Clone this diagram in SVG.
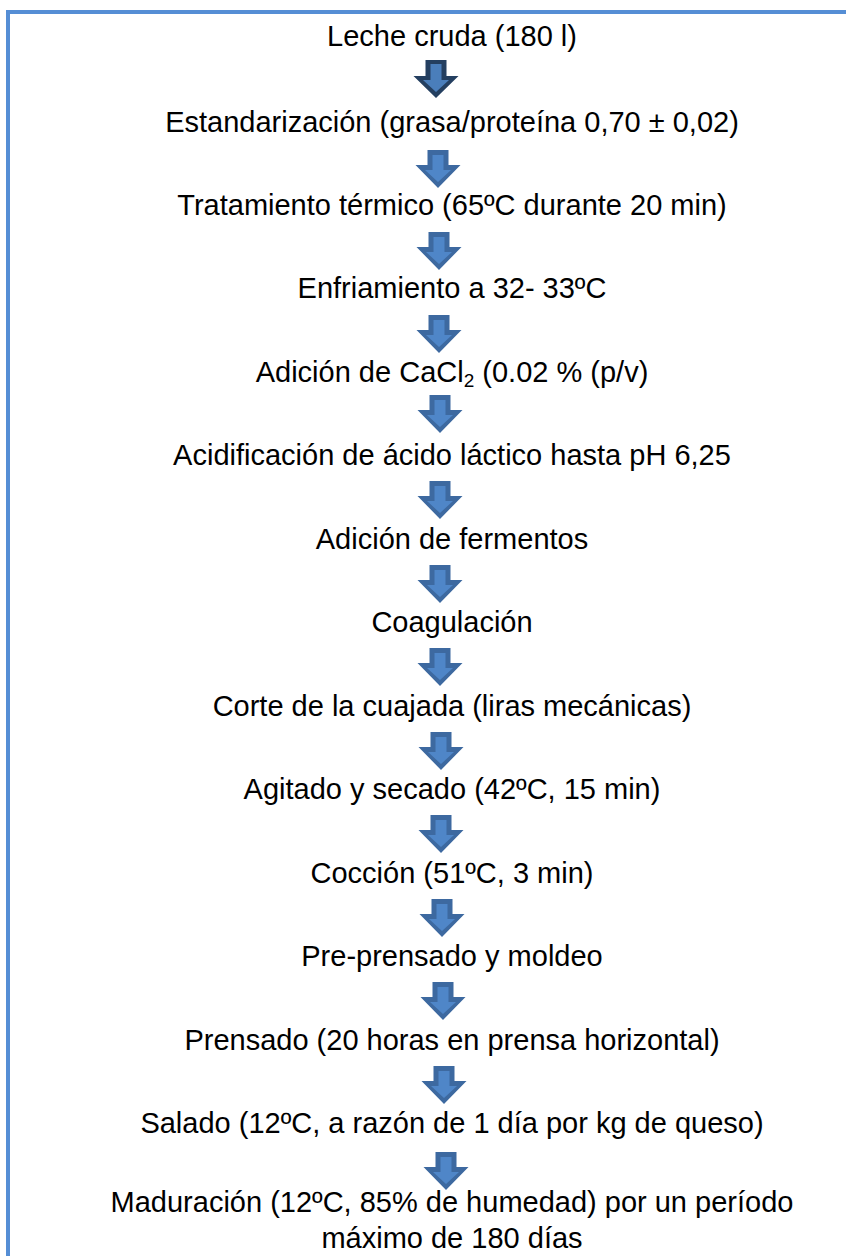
<svg xmlns="http://www.w3.org/2000/svg" xmlns:xlink="http://www.w3.org/1999/xlink" width="846" height="1256" viewBox="0 0 846 1256">
<style>
.t{font-family:"Liberation Sans",Arial,sans-serif;font-size:29px;fill:#000;text-anchor:middle}
.ao{fill:#3d69a0}
.ai{fill:#4f86c8}
</style>
<defs>
<g id="arr">
<path class="ao" d="M-10.5,0 H10.5 V15 H22.5 L0,38 L-22.5,15 H-10.5 Z"/>
<path class="ai" d="M-5.5,5 H5.5 V20 H13 L0,32 L-13,20 H-5.5 Z"/>
</g>
<g id="arr1">
<path fill="#243f60" d="M-10.5,0 H10.5 V16 H22.5 L0,38 L-22.5,16 H-10.5 Z"/>
<path fill="#4a7ebb" d="M-5.5,4 H5.5 V20 H13 L0,32 L-13,20 H-5.5 Z"/>
</g>
</defs>
<rect width="846" height="1256" fill="#fff"/>
<g id="frame" fill="#558ed5">
<rect x="6" y="10" width="840" height="4"/>
<rect x="6" y="10" width="4" height="1246"/>
</g>
<g id="connectors">
<use xlink:href="#arr1" x="436" y="60"/>
<use xlink:href="#arr" x="438" y="150"/>
<use xlink:href="#arr" x="439" y="232"/>
<use xlink:href="#arr" x="439" y="315"/>
<use xlink:href="#arr" x="440" y="395"/>
<use xlink:href="#arr" x="440" y="481"/>
<use xlink:href="#arr" x="440" y="565"/>
<use xlink:href="#arr" x="440" y="648"/>
<use xlink:href="#arr" x="441" y="732"/>
<use xlink:href="#arr" x="441" y="815"/>
<use xlink:href="#arr" x="442" y="899"/>
<use xlink:href="#arr" x="443" y="982"/>
<use xlink:href="#arr" x="444" y="1066"/>
<use xlink:href="#arr" x="446" y="1152"/>
</g>
<g id="n1"><text class="t" x="452" y="46">Leche cruda (180 l)</text></g>
<g id="n2"><text class="t" x="452" y="132">Estandarización (grasa/proteína 0,70 ± 0,02)</text></g>
<g id="n3"><text class="t" x="452" y="215">Tratamiento térmico (65ºC durante 20 min)</text></g>
<g id="n4"><text class="t" x="452" y="298">Enfriamiento a 32- 33ºC</text></g>
<g id="n5"><text class="t" x="452" y="382">Adición de CaCl<tspan font-size="19" dy="5">2</tspan><tspan dy="-5"> (0.02 % (p/v)</tspan></text></g>
<g id="n6"><text class="t" x="452" y="465">Acidificación de ácido láctico hasta pH 6,25</text></g>
<g id="n7"><text class="t" x="452" y="549">Adición de fermentos</text></g>
<g id="n8"><text class="t" x="452" y="632">Coagulación</text></g>
<g id="n9"><text class="t" x="452" y="716">Corte de la cuajada (liras mecánicas)</text></g>
<g id="n10"><text class="t" x="452" y="799">Agitado y secado (42ºC, 15 min)</text></g>
<g id="n11"><text class="t" x="452" y="883">Cocción (51ºC, 3 min)</text></g>
<g id="n12"><text class="t" x="452" y="966">Pre-prensado y moldeo</text></g>
<g id="n13"><text class="t" x="452" y="1050">Prensado (20 horas en prensa horizontal)</text></g>
<g id="n14"><text class="t" x="452" y="1133">Salado (12ºC, a razón de 1 día por kg de queso)</text></g>
<g id="n15"><text class="t" x="452" y="1212">Maduración (12ºC, 85% de humedad) por un período</text><text class="t" x="452" y="1248">máximo de 180 días</text></g>
</svg>
